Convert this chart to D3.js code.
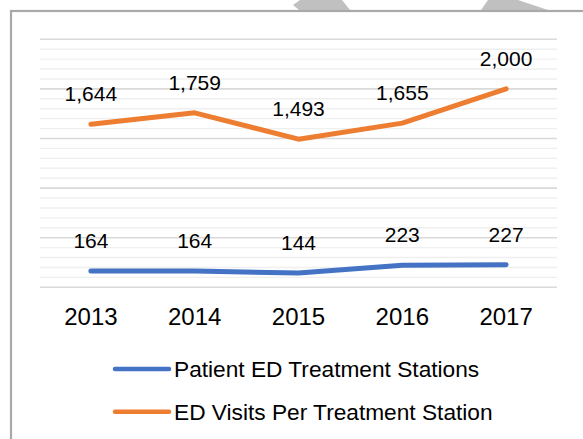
<!DOCTYPE html>
<html>
<head>
<meta charset="utf-8">
<script src="https://cdn.jsdelivr.net/npm/d3@7"></script>
<style>
  html, body { margin: 0; padding: 0; background: #ffffff; }
  svg { display: block; }
  text { font-family: "Liberation Sans", Arial, sans-serif; fill: #000000; }
</style>
</head>
<body>
<svg id="chart" width="583" height="439"></svg>
<script>
// Emergency department figures by year
const years = ["2013", "2014", "2015", "2016", "2017"];
const treatmentStations = [164, 164, 144, 223, 227];
const visitsPerStation = [1644, 1759, 1493, 1655, 2000];
const seriesNames = ["Patient ED Treatment Stations", "ED Visits Per Treatment Station"];
const seriesColors = ["#4472C4", "#ED7D31"];
const yMax = 2500;
const minorStep = 100;
const majorStep = 500;

const svg = d3.select("#chart");

// Decorative grey shapes peeking above the frame
const deco = [
  [[300, 0], [342, 0], [350, 10], [299, 10], [293, 5]],
  [[488, 0], [518, 0], [548, 10], [481, 10]]
];
svg.selectAll("polygon.deco").data(deco).join("polygon")
  .attr("class", "deco")
  .attr("points", d => d.map(p => p.join(",")).join(" "))
  .attr("fill", "#c0c0c0");

// Chart frame
svg.append("rect")
  .attr("x", 11).attr("y", 11)
  .attr("width", 600).attr("height", 460)
  .attr("fill", "#ffffff")
  .attr("stroke", "#a9a9a9")
  .attr("stroke-width", 2.2);

const plot = { left: 40, right: 557, top: 39.3, bottom: 287.3 };

const x = d3.scaleBand().domain(years).range([39, 558]);
const cx = d => x(d) + x.bandwidth() / 2;
const y = d3.scaleLinear().domain([0, yMax]).range([plot.bottom, plot.top]);

// Gridlines: light minor lines every 100, darker major lines every 500
const gridVals = d3.range(0, yMax + 1, minorStep);
svg.append("g").selectAll("line").data(gridVals).join("line")
  .attr("x1", plot.left).attr("x2", plot.right)
  .attr("y1", d => y(d)).attr("y2", d => y(d))
  .attr("stroke", d => d % majorStep === 0 ? "#d9d9d9" : "#efefef")
  .attr("stroke-width", d => d % majorStep === 0 ? 1.6 : 1.4);

// Category axis labels
const xAxis = d3.axisBottom(x).tickSize(0).tickPadding(0);
const gx = svg.append("g").attr("transform", `translate(0,${plot.bottom})`).call(xAxis);
gx.select(".domain").remove();
gx.selectAll("text")
  .attr("y", 0).attr("dy", null)
  .attr("transform", "translate(0,38)")
  .style("font-family", "'Liberation Sans', Arial, sans-serif")
  .style("font-size", "24px")
  .attr("fill", "#000");

// Lines
const series = [treatmentStations, visitsPerStation];
const line = d3.line().x((d, i) => cx(years[i])).y(d => y(d));
series.forEach((vals, s) => {
  svg.append("path")
    .datum(vals)
    .attr("d", line)
    .attr("fill", "none")
    .attr("stroke", seriesColors[s])
    .attr("stroke-width", 5)
    .attr("stroke-linecap", "round")
    .attr("stroke-linejoin", "round");

  svg.append("g").selectAll("text").data(vals).join("text")
    .attr("x", (d, i) => cx(years[i]))
    .attr("y", d => y(d) - 23)
    .attr("text-anchor", "middle")
    .style("font-size", "21px")
    .text(d => d3.format(",")(d));
});

// Legend
const legendY = [369, 411.7];
seriesNames.forEach((name, s) => {
  svg.append("line")
    .attr("x1", 115).attr("x2", 169)
    .attr("y1", legendY[s]).attr("y2", legendY[s])
    .attr("stroke", seriesColors[s])
    .attr("stroke-width", 4.5)
    .attr("stroke-linecap", "round");
  svg.append("text")
    .attr("x", 174)
    .attr("y", legendY[s] + 8)
    .style("font-size", "22.7px")
    .text(name);
});
</script>
</body>
</html>
